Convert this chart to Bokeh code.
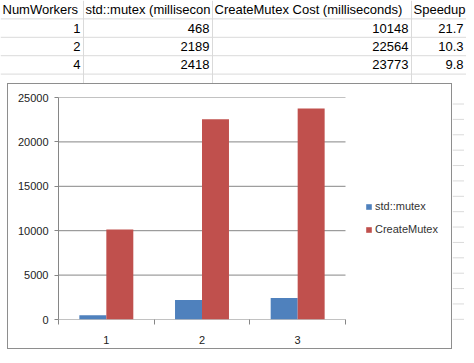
from bokeh.plotting import figure
from bokeh.layouts import column, row
from bokeh.models import (Range1d, FixedTicker, Legend, LegendItem,
                          ColumnDataSource, NumeralTickFormatter, Spacer)
from bokeh.transform import dodge
from bokeh.core.properties import value
from bokeh.embed import file_html
from bokeh.resources import INLINE

# ---------------- data ----------------
num_workers = [1, 2, 4]
std_mutex_ms = [468, 2189, 2418]
create_mutex_ms = [10148, 22564, 23773]
speedup = [21.7, 10.3, 9.8]
headers = ["NumWorkers", "std::mutex (millisecon",
           "CreateMutex Cost (milliseconds)", "Speedup"]
categories = ["1", "2", "3"]
series_names = ["std::mutex", "CreateMutex"]
y_ticks = [0, 5000, 10000, 15000, 20000, 25000]

# ---------------- style ----------------
BLUE = "#4F81BD"
RED = "#C0504D"
SHEET_GRID = "#DADADA"
AXIS_GRAY = "#868686"
FONT = "Liberation Sans"
ROW_H = 18.4
COL_EDGES = [0, 83, 212, 411, 469]
PAGE_W = 466
PLOT_W = 287      # px of the category area
FRAME_W = 395     # px of the frame (category area + legend area)


def sheet_strip(width, height, x0, y0):
    f = figure(width=width, height=height, x_range=Range1d(x0, x0 + width),
               y_range=Range1d(y0 + height, y0), output_backend="svg",
               toolbar_location=None, min_border=0, x_axis_location=None,
               y_axis_location=None, outline_line_color=None)
    f.xgrid.visible = False
    f.ygrid.visible = False
    return f


# ---------------- spreadsheet table (top) ----------------
t = sheet_strip(PAGE_W, 83, 0, 0)
row_lines = [ROW_H * k for k in range(1, 5)]
t.segment(x0=0, x1=PAGE_W, y0=row_lines, y1=row_lines, line_color=SHEET_GRID, line_width=1)
t.segment(x0=COL_EDGES[1:4], x1=COL_EDGES[1:4], y0=0, y1=90, line_color=SHEET_GRID, line_width=1)

t.text(x=[e + 2 for e in COL_EDGES[:4]], y=[ROW_H * 0.5] * 4, text=headers,
       text_font=value(FONT), text_font_size="13px", text_color="#000000",
       text_align="left", text_baseline="middle")

cols = [[str(v) for v in num_workers],
        [str(v) for v in std_mutex_ms],
        [str(v) for v in create_mutex_ms],
        [f"{v:.1f}" for v in speedup]]
for ci, vals in enumerate(cols):
    right_edge = min(COL_EDGES[ci + 1], PAGE_W) - 3
    t.text(x=[right_edge] * len(vals),
           y=[ROW_H * (r + 1.5) for r in range(len(vals))], text=vals,
           text_font=value(FONT), text_font_size="13px", text_color="#000000",
           text_align="right", text_baseline="middle")

# ---------------- chart ----------------
n = len(categories)
x_lo, x_hi = 0.5, n + 0.5
x_end = x_lo + n * FRAME_W / PLOT_W
c = figure(width=445, height=266, x_range=Range1d(x_lo, x_end), y_range=Range1d(0, 25000),
           output_backend="svg", toolbar_location=None,
           min_border_left=50, min_border_right=0, min_border_top=13, min_border_bottom=31,
           outline_line_color=None, background_fill_color="white",
           border_fill_color="white",
           styles={"border": "1px solid #8E8E8E"})

xs = list(range(1, n + 1))
src = ColumnDataSource(dict(x=xs, std=std_mutex_ms, cm=create_mutex_ms))

# horizontal gridlines only across the category area
c.segment(x0=x_lo, x1=x_hi, y0=y_ticks, y1=y_ticks, line_color=AXIS_GRAY, line_width=1)

r1 = c.vbar(x=dodge("x", -0.141, range=c.x_range), top="std", width=0.282,
            source=src, fill_color=BLUE, line_color=None)
r2 = c.vbar(x=dodge("x", 0.141, range=c.x_range), top="cm", width=0.282,
            source=src, fill_color=RED, line_color=None)

# y axis
c.yaxis.ticker = FixedTicker(ticks=y_ticks)
c.yaxis.formatter = NumeralTickFormatter(format="0")
c.yaxis.axis_line_color = AXIS_GRAY
c.yaxis.major_tick_line_color = AXIS_GRAY
c.yaxis.major_tick_out = 4
c.yaxis.major_tick_in = 0
c.yaxis.minor_tick_line_color = None
c.yaxis.major_label_text_font = FONT
c.yaxis.major_label_text_font_size = "11px"
c.yaxis.major_label_text_color = "#222222"
c.yaxis.major_label_standoff = 6
c.ygrid.visible = False
c.xgrid.visible = False

# x axis (line drawn by the 0 gridline; ticks at category boundaries)
c.xaxis.ticker = FixedTicker(ticks=xs, minor_ticks=[x - 0.5 for x in xs] + [xs[-1] + 0.5])
c.xaxis.major_label_overrides = {x: lab for x, lab in zip(xs, categories)}
c.xaxis.axis_line_color = None
c.xaxis.major_tick_line_color = None
c.xaxis.major_tick_out = 0
c.xaxis.major_tick_in = 0
c.xaxis.minor_tick_line_color = AXIS_GRAY
c.xaxis.minor_tick_out = 5
c.xaxis.minor_tick_in = 0
c.xaxis.major_label_text_font = FONT
c.xaxis.major_label_text_font_size = "11px"
c.xaxis.major_label_text_color = "#222222"
c.xaxis.major_label_standoff = 11

legend = Legend(items=[LegendItem(label=series_names[0], renderers=[r1]),
                       LegendItem(label=series_names[1], renderers=[r2])],
                location=(307, 82), border_line_color=None,
                background_fill_alpha=0, padding=0, margin=0, spacing=7,
                glyph_width=7, glyph_height=7, label_height=16,
                label_standoff=3, label_text_font=FONT,
                label_text_font_size="11px", label_text_color="#333333")
c.add_layout(legend, "center")

# ---------------- sheet grid strip right of the chart ----------------
strip_lines = [ROW_H * k for k in range(5, 20)]
right = sheet_strip(PAGE_W - 7 - 447, 268, 7 + 447, 83)
right.segment(x0=454, x1=PAGE_W, y0=strip_lines, y1=strip_lines, line_color=SHEET_GRID, line_width=1)

layout = column(t, row(Spacer(width=7, height=268), c, right, spacing=0), spacing=0)

open("out.html", "w").write(file_html(layout, INLINE))
